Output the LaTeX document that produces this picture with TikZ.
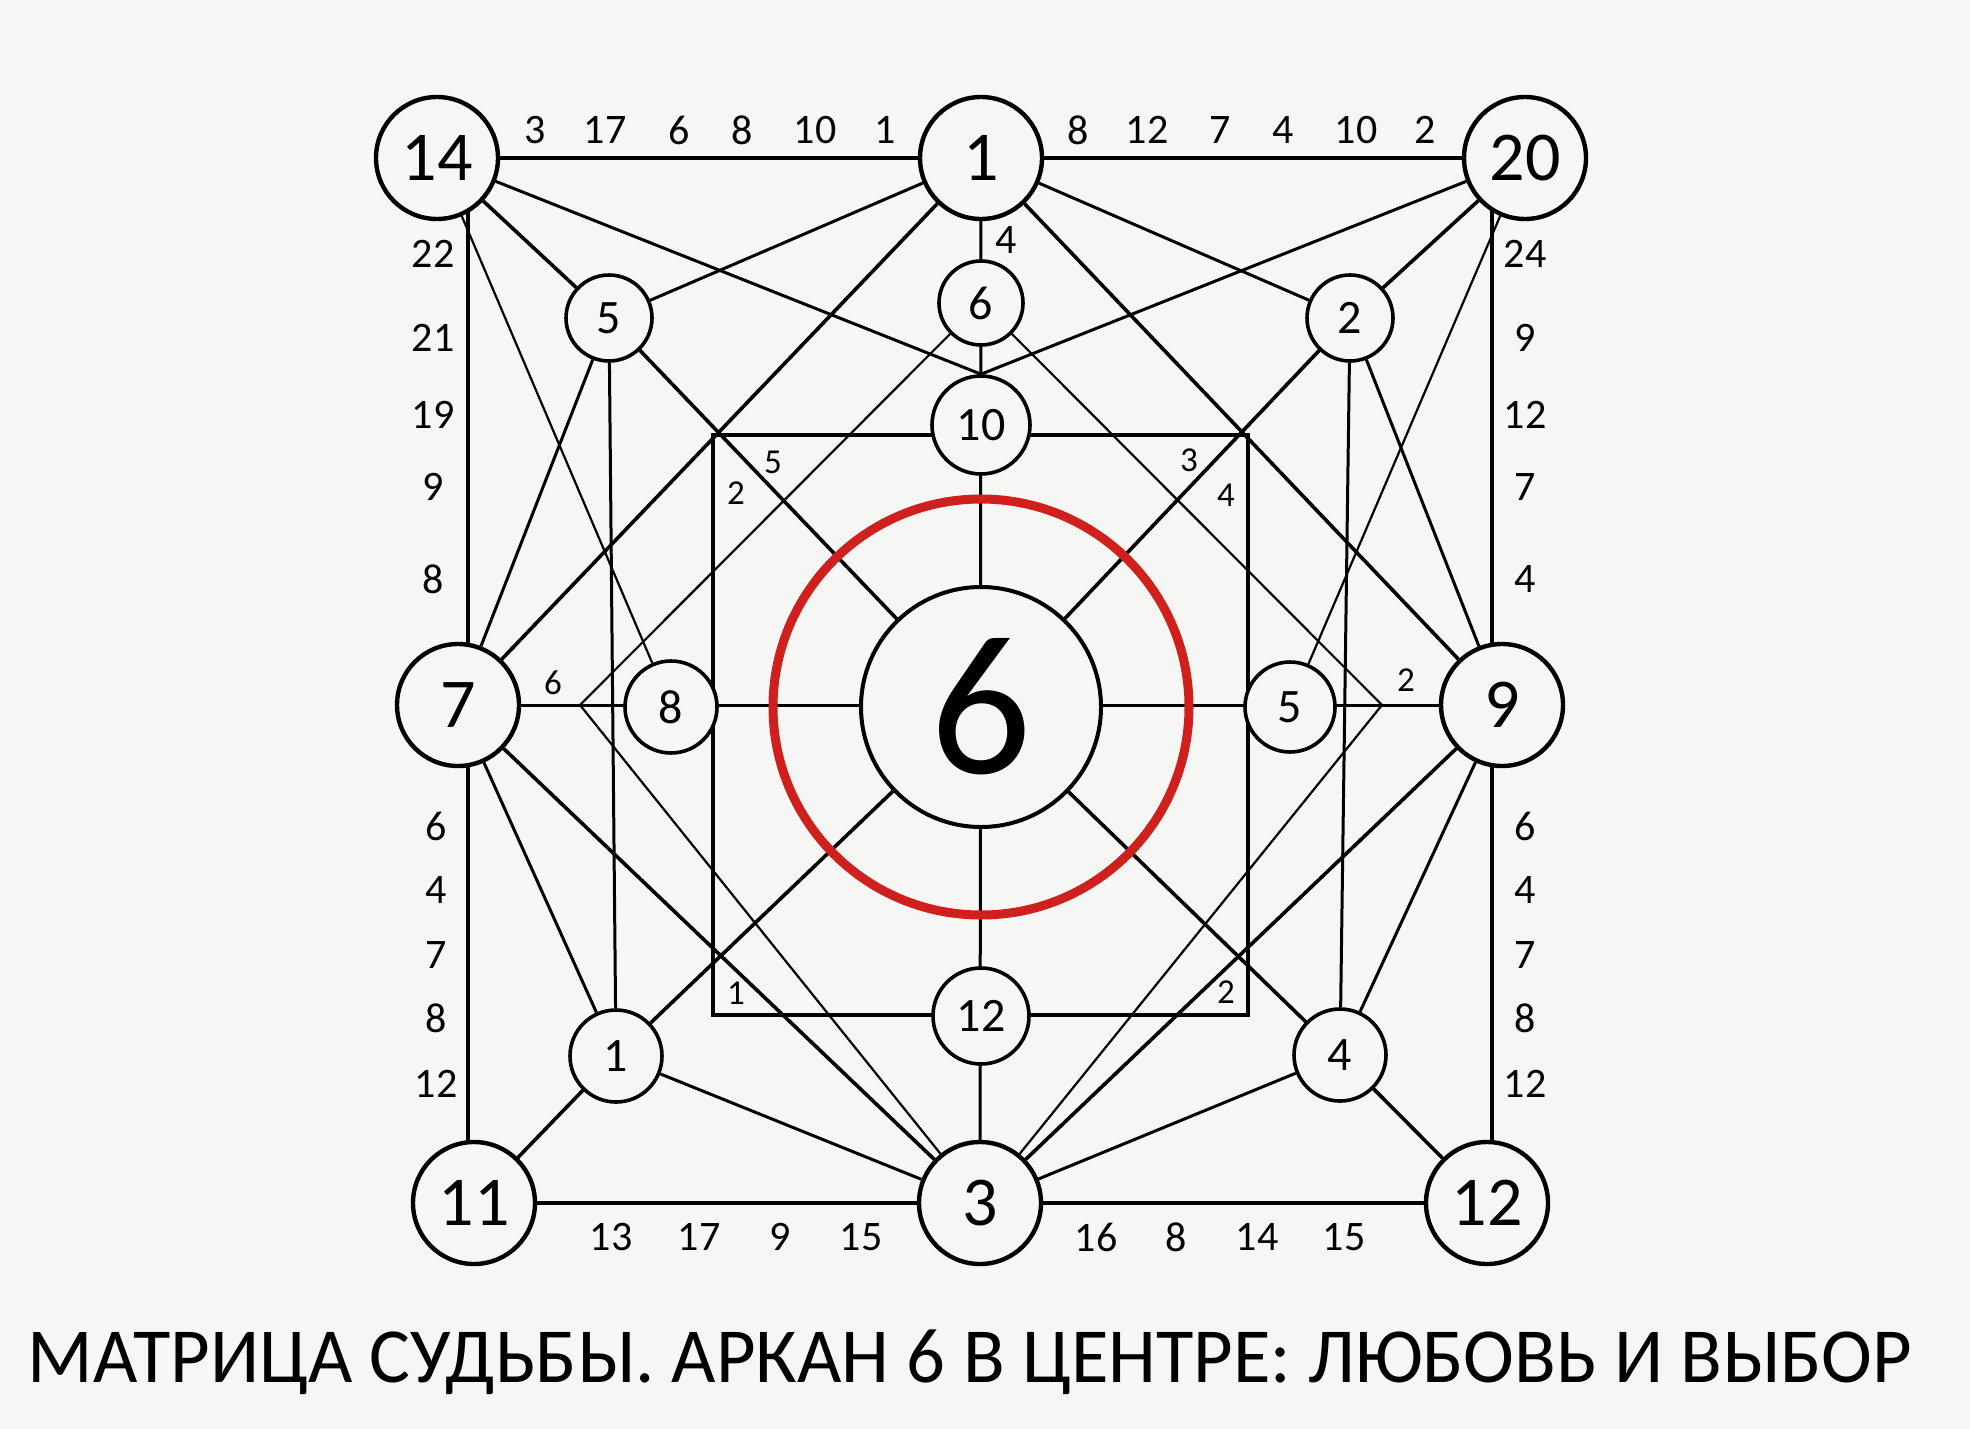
\documentclass[tikz,border=0pt]{standalone}
\usepackage{fontspec}
\setmainfont{Carlito}
\usepackage{graphicx}
\usetikzlibrary{calc}
\definecolor{paper}{RGB}{246,246,244}
\definecolor{ringred}{RGB}{208,32,30}
\pgfdeclarelayer{paperlayer}
\pgfdeclarelayer{edgelayer}
\pgfsetlayers{paperlayer,edgelayer,main}
\begin{document}
\begin{tikzpicture}[x=0.5pt,y=-0.5pt,
  corner/.style={circle,draw,line width=2.2pt,fill=paper,inner sep=0pt,minimum size=61pt,font=\fontsize{35}{35}\selectfont},
  small/.style={circle,draw,line width=1.8pt,fill=paper,inner sep=0pt,font=\fontsize{24}{24}\selectfont},
  lab/.style={font=\fontsize{21}{21}\selectfont,inner sep=0pt},
  ilab/.style={font=\fontsize{17.5}{17.5}\selectfont,inner sep=0pt},
  thickline/.style={line width=1.8pt},
  midline/.style={line width=1.5pt},
  thinline/.style={line width=1.1pt}]
\useasboundingbox (0,0) rectangle (1970,1429);
\begin{pgfonlayer}{paperlayer}
\fill[paper] (0,0) rectangle (1970,1429);
\end{pgfonlayer}

% corner / mid nodes
\node[corner] (A14) at (437,158) {14};
\node[corner] (A1) at (981,158) {1};
\node[corner] (A20) at (1525,158) {20};
\node[corner] (A7) at (458,705) {7};
\node[corner] (A9) at (1502,705) {9};
\node[corner] (A11) at (474,1203) {11};
\node[corner] (A3) at (980,1203) {3};
\node[corner] (A12) at (1487,1203) {12};

% small nodes
\node[small,minimum size=43pt] (s5) at (609,318) {5};
\node[small,minimum size=42pt] (s6) at (981,303) {6};
\node[small,minimum size=49pt] (s10) at (981,425) {10};
\node[small,minimum size=43pt] (s2) at (1350,318) {2};
\node[small,minimum size=46pt] (s8) at (671,707) {8};
\node[small,minimum size=45pt] (s5r) at (1290,707) {5};
\node[small,minimum size=48pt] (s12) at (981,1016) {12};
\node[small,minimum size=46pt] (s1) at (616,1056) {1};
\node[small,minimum size=46pt] (s4) at (1340,1055) {4};

% centre
\node[circle,draw,line width=2pt,fill=paper,minimum size=120pt,inner sep=0pt,font=\fontsize{100}{100}\selectfont] (C) at (981,707) {6};

% helper coordinates
\coordinate (Lv) at (580,705);
\coordinate (Rv) at (1382,705);
\coordinate (Q1) at (713,435);
\coordinate (Q3) at (1248,1015);
\coordinate (LX) at (468,0);
\coordinate (RX) at (1492,0);

\begin{pgfonlayer}{edgelayer}
% frame
\draw[thickline] (A14) -- (A20);
\draw[thickline] (A11) -- (A12);
\draw[thickline] (A14 -| LX) -- (A11 -| LX);
\draw[thickline] (A20 -| RX) -- (A12 -| RX);
% axes
\draw[midline] (A7) -- (A9);
\draw[midline] (A1) -- (A3);
% inner square
\draw[thickline] (Q1) rectangle (Q3);
% thick diagonals
\draw[thickline] (A14) -- (s5);
\draw[thickline] (A20) -- (s2);
\draw[thickline] (A1) -- (A7);
\draw[thickline] (A1) -- (A9);
\draw[thickline] (s5) -- (C);
\draw[thickline] (s2) -- (C);
\draw[thickline] (C) -- (s1);
\draw[thickline] (C) -- (s4);
\draw[thickline] (A7) -- (A3);
\draw[thickline] (A9) -- (A3);
\draw[thickline] (s1) -- (A11);
\draw[thickline] (s4) -- (A12);
% medium lines
\draw[midline] (A14) -- (s10.north);
\draw[midline] (A20) -- (s10.north);
\draw[midline] (A1) -- (s5);
\draw[midline] (A1) -- (s2);
\draw[midline] (s5) -- (A7);
\draw[midline] (s2) -- (A9);
\draw[midline] (s5) -- (s1);
\draw[midline] (s2) -- (s4);
\draw[midline] (A7) -- (s1);
\draw[midline] (A9) -- (s4);
\draw[midline] (s1) -- (A3);
\draw[midline] (s4) -- (A3);
% thin lines
\draw[thinline] (A14) -- (s8);
\draw[thinline] (A20) -- (s5r);
\draw[thinline] (s6) -- (Lv) -- (A3);
\draw[thinline] (s6) -- (Rv) -- (A3);
\end{pgfonlayer}

% red ring
\draw[ringred,line width=4.5pt] (C.center) circle[radius=104pt];

% edge labels
\foreach \t/\x [count=\k] in {3/535,17/605,6/679,8/742,10/815,1/885}
  \node[lab] (tl\k) at (\x,130) {\t};
\foreach \t/\x [count=\k] in {8/1078,12/1147,7/1220,4/1283,10/1356,2/1425}
  \node[lab] (tr\k) at (\x,130) {\t};
\foreach \t/\y [count=\k] in {22/254,21/338,19/415,9/487,8/579}
  \node[lab] (lu\k) at (433,\y) {\t};
\foreach \t/\y [count=\k] in {6/826,4/890,7/955,8/1018,12/1084}
  \node[lab] (ll\k) at (436,\y) {\t};
\foreach \t/\y [count=\k] in {24/254,9/338,12/415,7/487,4/579}
  \node[lab] (ru\k) at (1525,\y) {\t};
\foreach \t/\y [count=\k] in {6/826,4/890,7/955,8/1018,12/1084}
  \node[lab] (rl\k) at (1525,\y) {\t};
\foreach \t/\x [count=\k] in {13/611,17/699,9/780,15/861}
  \node[lab] (bl\k) at (\x,1237) {\t};
\foreach \t/\x [count=\k] in {16/1096,8/1176,14/1257,15/1344}
  \node[lab] (br\k) at (\x,1237) {\t};
\node[lab] (v4) at (1006,240) {4};

% inner labels
\node[ilab] (i1) at (773,462) {5};
\node[ilab] (i2) at (736,493) {2};
\node[ilab] (i3) at (1189,460) {3};
\node[ilab] (i4) at (1226,495) {4};
\node[ilab] (i5) at (553,683) {6};
\node[ilab] (i6) at (1406,680) {2};
\node[ilab] (i7) at (736,993) {1};
\node[ilab] (i8) at (1226,992) {2};

% title
\node[inner sep=0pt,anchor=base] (title) at (970,1382)
  {\resizebox{942pt}{\height}{\fontsize{39}{39}\selectfont МАТРИЦА СУДЬБЫ. АРКАН 6 В ЦЕНТРЕ: ЛЮБОВЬ И ВЫБОР}};
\end{tikzpicture}
\end{document}
